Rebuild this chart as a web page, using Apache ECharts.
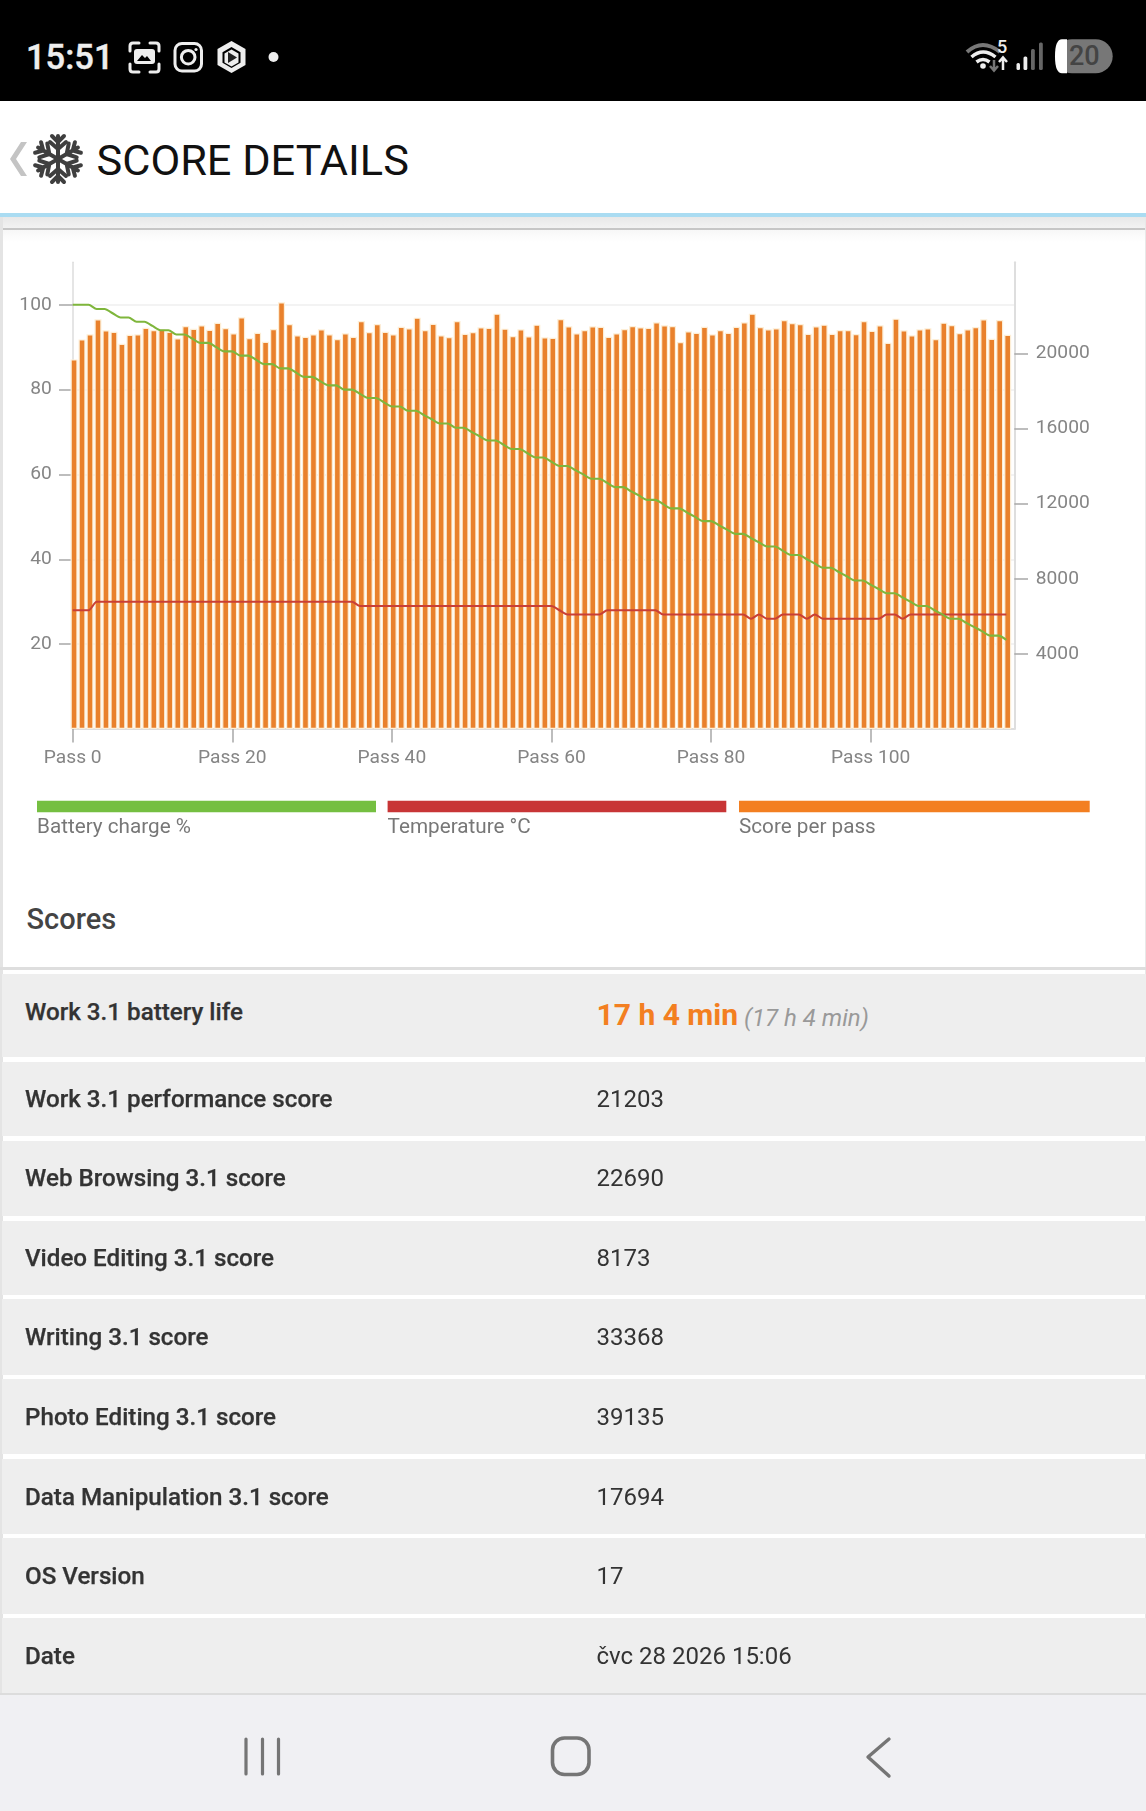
<!DOCTYPE html>
<html>
<head>
<meta charset="utf-8">
<script src="https://cdn.jsdelivr.net/npm/echarts@6/dist/echarts.min.js"></script>
<style>
html,body{margin:0;padding:0;background:#fff;}
body{width:1146px;height:1811px;position:relative;overflow:hidden;font-family:Roboto,sans-serif;}
.abs{position:absolute;}
.row{position:absolute;left:2px;right:0;background:#eeeeee;}
.row .k{position:absolute;left:23px;top:50%;transform:translateY(-50%);font-weight:500;font-size:24.2px;color:#333;white-space:nowrap;-webkit-text-stroke:.25px #333;}
.row .v{position:absolute;left:594.5px;top:50%;transform:translateY(-50%);font-size:24px;color:#333;white-space:nowrap;}
.row .v .big{font-size:30px;font-weight:700;color:#f37f21;position:relative;top:-1px;}
.row .v .sub{font-size:24px;font-style:italic;color:#999;margin-left:6px;position:relative;top:0;}
</style>
</head>
<body>
<div class="abs" style="left:0;top:0;width:1146px;height:101px;background:#000;"></div>
<div class="abs" style="left:26px;top:36px;font-size:34.5px;font-weight:500;color:#eee;line-height:42px;-webkit-text-stroke:.4px #eee;">15:51</div>
<svg class="abs" style="left:0;top:0;" width="1146" height="101" fill="none">
  <g stroke="#eee" stroke-width="3" stroke-linecap="round" stroke-linejoin="round">
    <path d="M130 51v-5q0-3 3-3h6M150 43h6q3 0 3 3v5M159 64v5q0 3-3 3h-6M139 72h-6q-3 0-3-3v-5"/>
    <rect x="175" y="43.5" width="26.5" height="27.5" rx="7"/>
    <circle cx="188.2" cy="57.2" r="6.8"/>
  </g>
  <path d="M137 49h15q3 0 3 3v9q0 3-3 3h-15q-3 0-3-3v-9q0-3 3-3z" fill="#eee"/>
  <path d="M137 61l5-6 3 3 2-2 4 5z" fill="#000"/>
  <circle cx="196" cy="49.5" r="1.6" fill="#eee"/>
  <path d="M231.5 41l14 8v16l-14 8-14-8V49z" fill="#eee"/>
  <path d="M231.5 47l9 5.2v10.6l-9 5.2-9-5.2V52.2z" fill="#000"/>
  <path d="M231.5 49.5l7 4v9l-7 4-7-4v-9z" fill="#eee"/>
  <path d="M228 52l9 5.5-9 5.5z" fill="#222"/>
  <circle cx="273.5" cy="57" r="5" fill="#eee"/>
  <path d="M967 52q15.500-14 33 0" stroke="#777" stroke-width="4"/>
  <path d="M971.500 57q11.500-10 24 0M976.500 62q6.500-5 13 0" stroke="#eee" stroke-width="3.500"/>
  <circle cx="983" cy="66" r="2.800" fill="#eee"/>
  <path d="M994 60v10M990 66l4 4.500 4-4.500" stroke="#777" stroke-width="2.500"/>
  <path d="M1003 70V58M999 62l4-4.500 4 4.500" stroke="#eee" stroke-width="2.500"/>
  <rect x="1016.500" y="63" width="3.500" height="7" rx="1.500" fill="#eee"/>
  <rect x="1023.500" y="56.500" width="3.800" height="13.500" rx="1.500" fill="#eee"/>
  <rect x="1031" y="49" width="3.800" height="21" rx="1.500" fill="#666"/>
  <rect x="1039" y="42.500" width="3.800" height="27.500" rx="1.500" fill="#666"/>
  <rect x="1055" y="39.300" width="57.700" height="34" rx="17" fill="#777"/>
  <path d="M1067 39.300h-5q-7 0-7 17t7 17h5z" fill="#fff"/>
</svg>
<div class="abs" style="left:997px;top:37px;font-size:18px;font-weight:500;color:#eee;line-height:20px;">5</div>
<div class="abs" style="left:1069px;top:40px;width:30px;text-align:center;font-size:27px;font-weight:500;color:#444;line-height:33px;">20</div>

<div class="abs" style="left:0;top:101px;width:1146px;height:112px;background:#fff;"></div>
<svg class="abs" style="left:0;top:130px;" width="100" height="60" fill="none">
  <path d="M27 12L16 29l11 17h-6L10 29l11-17z" fill="#c4c4c4"/>
  <g id="flake" stroke="#3f3f3f" stroke-width="4" stroke-linecap="round" transform="translate(58 29)">
    <g id="arm"><path d="M0 0V-23M0-10l-8-7M0-10l8-7M0-17l-6-6M0-17l6-6"/></g>
    <use href="#arm" transform="rotate(60)"/><use href="#arm" transform="rotate(120)"/>
    <use href="#arm" transform="rotate(180)"/><use href="#arm" transform="rotate(240)"/><use href="#arm" transform="rotate(300)"/>
  </g>
</svg>
<div class="abs" style="left:96.500px;top:134px;font-size:43.300px;font-weight:400;color:#111;line-height:54px;white-space:nowrap;">SCORE DETAILS</div>
<div class="abs" style="left:0;top:213px;width:1146px;height:4px;background:#aadcf2;"></div>
<div class="abs" style="left:0;top:217px;width:1146px;height:11px;background:linear-gradient(#e8e8e8,#f2f2f2);"></div>
<div class="abs" style="left:0;top:228px;width:1146px;height:1.500px;background:#c6c6c6;"></div>
<div class="abs" style="left:0;top:230px;width:1146px;height:12px;background:linear-gradient(#f7f7f7,#fff);"></div>

<div id="chart" class="abs" style="left:0;top:230px;width:1146px;height:620px;"></div>

<div class="abs" style="left:0;top:217px;width:2.500px;height:1477px;background:#e4e4e4;"></div>
<div class="abs" style="right:0;top:217px;width:1.500px;height:1477px;background:#e8e8e8;"></div>

<div class="abs" style="left:26.500px;top:900px;font-size:29px;font-weight:500;color:#444;line-height:38px;">Scores</div>
<div class="abs" style="left:0;top:967px;width:1146px;height:2.500px;background:#dedede;"></div>
<div id="rows"></div>
<div class="abs" style="left:0;top:1693px;width:1146px;height:118px;background:#f0f0f3;"></div>
<div class="abs" style="left:0;top:1693px;width:1146px;height:1.500px;background:#dcdcdc;"></div>
<svg class="abs" style="left:0;top:1693px;" width="1146" height="118" fill="none" stroke="#757575" stroke-linecap="round" stroke-linejoin="round">
  <path d="M246 46v35M262.500 46v35M278.500 46v35" stroke-width="3.200"/>
  <rect x="552.500" y="45" width="36.500" height="36.500" rx="12" stroke-width="3.600"/>
  <path d="M889 46L868 64l21 19" stroke-width="3.400"/>
</svg>

<script>
const passLabels = [0, 20, 40, 60, 80, 100];
const leftTicks = [20, 40, 60, 80, 100];
const rightTicks = [4000, 8000, 12000, 16000, 20000];
const seriesNames = ['Battery charge %', 'Temperature °C', 'Score per pass'];
const legendColors = ['#75bf41', '#c83536', '#f37f21'];

const batteryCharge = [
  100,100,100,99,99,98,97,97,96,96,
  95,94,94,93,93,92,91,91,90,89,
  89,88,88,87,86,86,85,85,84,83,
  83,82,81,81,80,80,79,78,78,77,
  76,76,75,75,74,73,72,72,71,71,
  70,69,68,68,67,66,66,65,64,64,
  63,62,62,61,60,59,59,58,57,57,
  56,55,54,54,53,52,52,51,50,49,
  49,48,47,46,46,45,44,43,43,42,
  41,41,40,39,38,38,37,36,35,35,
  34,33,32,32,31,30,29,29,28,27,
  26,26,25,24,23,22,22,21];

const temperature = [
  28,28,28,30,30,30,30,30,30,30,
  30,30,30,30,30,30,30,30,30,30,
  30,30,30,30,30,30,30,30,30,30,
  30,30,30,30,30,30,29,29,29,29,
  29,29,29,29,29,29,29,29,29,29,
  29,29,29,29,29,29,29,29,29,29,
  29,28,27,27,27,27,27,28,28,28,
  28,28,28,28,27,27,27,27,27,27,
  27,27,27,27,27,26,27,26,26,27,
  27,27,26,27,26,26,26,26,26,26,
  26,26,27,27,26,27,27,27,27,27,
  27,27,27,27,27,27,27,27];

const scorePerPass = [19680,20746,21013,21813,21226,21155,20515,20995,21013,21368,21244,21280,21155,20800,21457,21315,21493,21262,21635,21350,
  21066,21920,20817,21102,20622,21297,22720,21564,20960,20888,21013,21280,21013,20764,21066,20888,21724,21137,21564,
  21156,21013,21422,21333,21902,21244,21582,20960,20871,21725,21049,21138,21387,21369,22116,21316,20924,21280,20907,21529,
  20853,20836,21831,21440,21067,21244,21440,21422,20889,21067,21298,21458,21387,21369,21653,21493,21458,20604,21173,21102,
  21422,21013,21244,21102,21422,21653,22116,21404,21280,21333,21778,21618,21565,21049,21440,21529,21049,21244,21244,21031,
  21725,21209,21493,20569,21849,21227,20960,21280,21333,20764,21636,21511,21085,21280,21404,21813,20782,21778,20996];

const rowLabels = ['Work 3.1 battery life','Work 3.1 performance score','Web Browsing 3.1 score','Video Editing 3.1 score','Writing 3.1 score','Photo Editing 3.1 score','Data Manipulation 3.1 score','OS Version','Date'];
const rowValues = ['<span class="big">17 h 4 min</span><span class="sub">(17 h 4 min)</span>','21203','22690','8173','33368','39135','17694','17','čvc 28 2026 15:06'];
const rowTops = [973.7,1061.7,1140.7,1220.7,1299.3,1379.3,1459,1538,1618];
const rowBottoms = [1057,1136,1215.7,1295,1375,1454.3,1534,1613.6,1693];
const labelShift = [-3.5,0,0,0,0,0,0,0,0];

const rowsEl = document.getElementById('rows');
rowLabels.forEach((k, i) => {
  const d = document.createElement('div');
  d.className = 'row';
  d.style.top = rowTops[i] + 'px';
  d.style.height = (rowBottoms[i] - rowTops[i]) + 'px';
  d.innerHTML = '<span class="k" style="margin-top:' + labelShift[i] + 'px">' + k + '</span><span class="v">' + rowValues[i] + '</span>';
  rowsEl.appendChild(d);
});

const pairs = a => a.map((v, i) => [i, v]);
const labelStyle = {color: '#858585', fontSize: 19.2, fontFamily: 'Roboto'};
const chart = echarts.init(document.getElementById('chart'), null, {renderer: 'canvas'});

const legendBars = [[37, 339], [387.6, 338.7], [739, 350.7]];
const graphicEls = [];
seriesNames.forEach((n, i) => {
  graphicEls.push({type: 'rect', left: legendBars[i][0], top: 570.7, shape: {width: legendBars[i][1], height: 11.6}, style: {fill: legendColors[i]}});
  graphicEls.push({type: 'text', left: legendBars[i][0], top: 587, style: {text: n, fill: '#777', fontSize: 20.7, fontFamily: 'Roboto'}});
});

chart.setOption({
  animation: false,
  backgroundColor: 'transparent',
  grid: {left: 72.7, top: 32.3, width: 941.6, height: 466.7, containLabel: false},
  graphic: graphicEls,
  xAxis: [
    {type: 'value', min: 0, max: 118, position: 'bottom',
     axisLine: {show: true, onZero: false, lineStyle: {color: '#dedede', width: 2}},
     axisTick: {show: true, length: 13.5, customValues: passLabels, lineStyle: {color: '#a8a8a8', width: 1.5}},
     axisLabel: {show: true, customValues: passLabels, margin: 20, formatter: v => 'Pass ' + v, ...labelStyle},
     splitLine: {show: false}},
    {type: 'value', min: -0.17, max: 117.83, position: 'bottom', show: false}
  ],
  yAxis: [
    {type: 'value', min: 0, max: 110, position: 'left',
     axisLine: {show: true, onZero: false, lineStyle: {color: '#dcdcdc', width: 1.5}},
     axisTick: {show: true, length: 13.7, customValues: leftTicks, lineStyle: {color: '#a8a8a8', width: 1.5}},
     axisLabel: {show: true, customValues: leftTicks, margin: 21, padding: [2, 0, 0, 0], ...labelStyle},
     splitNumber: 11,
     splitLine: {show: true, lineStyle: {color: '#efefef', width: 1.5}}},
    {type: 'value', min: 0, max: 24850, position: 'right',
     axisLine: {show: true, onZero: false, lineStyle: {color: '#dedede', width: 2}},
     axisTick: {show: true, length: 13.7, customValues: rightTicks, lineStyle: {color: '#a8a8a8', width: 1.5}},
     axisLabel: {show: true, customValues: rightTicks, margin: 21.5, padding: [4, 0, 0, 0], formatter: v => String(v), ...labelStyle},
     splitLine: {show: false}}
  ],
  series: [
    {name: seriesNames[2], type: 'bar', xAxisIndex: 1, yAxisIndex: 1, barWidth: 7, clip: false, z: 2,
     itemStyle: {color: '#e9812c', borderColor: '#fdeed6', borderWidth: 1.2},
     data: pairs(scorePerPass)},
    {name: seriesNames[1], type: 'line', xAxisIndex: 0, yAxisIndex: 0, z: 3, symbol: 'none', smooth: 0.25,
     lineStyle: {color: '#c93f36', width: 2.1}, data: pairs(temperature)},
    {name: seriesNames[0], type: 'line', xAxisIndex: 0, yAxisIndex: 0, z: 4, symbol: 'none', smooth: 0.25,
     lineStyle: {color: '#7fb63c', width: 2.1}, data: pairs(batteryCharge)}
  ]
});
</script>
</body>
</html>
